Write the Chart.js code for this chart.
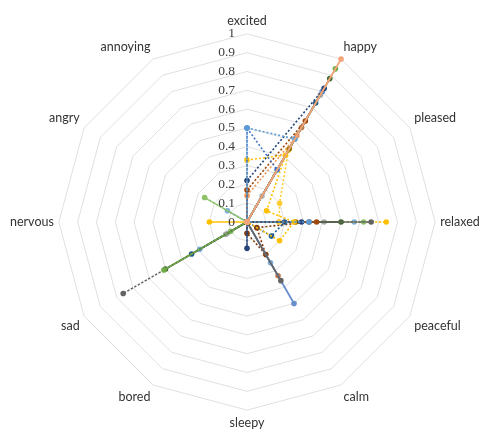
<!DOCTYPE html>
<html>
<head>
<meta charset="utf-8">
<script src="https://cdn.jsdelivr.net/npm/chart.js@4.4.1/dist/chart.umd.min.js"></script>
<style>
  body { margin: 0; background: #fff; }
  canvas { display: block; }
</style>
</head>
<body>
<canvas id="moodChart" width="482" height="436"></canvas>
<script>
// axes, clockwise from the top
const labels = ['excited', 'happy', 'pleased', 'relaxed', 'peaceful', 'calm',
                'sleepy', 'bored', 'sad', 'nervous', 'angry', 'annoying'];
const tickValues = [0, 0.1, 0.2, 0.3, 0.4, 0.5, 0.6, 0.7, 0.8, 0.9, 1];
const tickLabels = ['0', '0.1', '0.2', '0.3', '0.4', '0.5', '0.6', '0.7', '0.8', '0.9', '1'];

// one list per series
//           exc   hap   ple   rel   pea   calm  slp   bor   sad   nrv   ang   ann
const s01 = [0,    1.00, 0,    0,    0,    0,    0,    0,    0,    0,    0,    0];
const s02 = [0,    0.94, 0,    0,    0,    0,    0,    0,    0.51, 0,    0,    0];
const s03 = [0.50, 0.51, 0,    0.33, 0,    0,    0,    0,    0,    0,    0,    0];
const s04 = [0.50, 0.32, 0,    0,    0,    0,    0,    0,    0,    0,    0,    0];
const s05 = [0.33, 0.41, 0.12, 0.25, 0.20, 0,    0,    0,    0,    0,    0,    0];
const s06 = [0.22, 0.82, 0,    0.29, 0,    0,    0.14, 0,    0,    0,    0,    0];
const s07 = [0.17, 0.62, 0,    0.37, 0,    0,    0,    0,    0,    0,    0,    0];
const s08 = [0.14, 0.53, 0,    0,    0,    0,    0,    0,    0,    0,    0,    0];
const s09 = [0,    0,    0,    0.66, 0,    0.36, 0,    0,    0.76, 0,    0,    0];
const s10 = [0,    0.88, 0,    0.50, 0,    0,    0,    0,    0.50, 0,    0,    0];
const s11 = [0,    0.78, 0,    0.41, 0,    0,    0,    0,    0.13, 0,    0,    0];
const s12 = [0,    0.45, 0,    0.26, 0,    0,    0,    0,    0,    0,    0,    0];
const s13 = [0,    0.73, 0,    0.20, 0.15, 0,    0,    0,    0.34, 0,    0,    0];
const s14 = [0,    0,    0,    0.62, 0,    0,    0,    0,    0.10, 0,    0.26, 0];
const s15 = [0,    0,    0,    0.74, 0,    0,    0,    0,    0,    0.20, 0,    0];
const s16 = [0,    0.44, 0.20, 0.17, 0,    0,    0,    0,    0,    0,    0,    0];
const s17 = [0,    0.80, 0,    0,    0,    0.50, 0,    0,    0,    0,    0,    0];
const s18 = [0,    0.16, 0,    0.17, 0,    0,    0,    0,    0.12, 0,    0,    0];
const s19 = [0,    0,    0,    0.33, 0.06, 0.20, 0.06, 0,    0,    0,    0,    0];
const s20 = [0,    0.58, 0,    0,    0,    0.33, 0,    0,    0,    0,    0,    0];
const s21 = [0,    0,    0,    0.57, 0,    0.25, 0,    0,    0.29, 0,    0.12, 0];

const seriesData = [s01, s02, s03, s04, s05, s06, s07, s08, s09, s10, s11,
                    s12, s13, s14, s15, s16, s17, s18, s19, s20, s21];
const seriesColors = ['#F4A57A', '#70AD47', '#5B9BD5', '#4472C4', '#FFC000', '#264478',
                      '#9E480E', '#F1975A', '#636363', '#43682B', '#A5A5A5', '#997300',
                      '#255E91', '#8CC168', '#FFC000', '#FFCD33', '#698ED0', '#B7B7B7',
                      '#843C0C', '#C0794A', '#7CAFDD'];
const seriesSolid = [true, false, false, false, false, false, false, false, false, true, false,
                     false, false, false, false, false, true, false, false, false, false];

const tickLabelPlugin = {
    id: 'tickLabelPlugin',
    afterDatasetsDraw(chart) {
        const scale = chart.scales.r;
        const ctx = chart.ctx;
        ctx.save();
        ctx.font = '13.5px "Liberation Serif", serif';
        ctx.fillStyle = '#404040';
        ctx.textAlign = 'right';
        ctx.textBaseline = 'middle';
        tickValues.forEach((v, i) => {
            const d = scale.getDistanceFromCenterForValue(v);
            ctx.fillText(tickLabels[i], scale.xCenter - 12, scale.yCenter - d);
        });
        ctx.restore();
    }
};

const ctx = document.getElementById('moodChart').getContext('2d');
new Chart(ctx, {
    type: 'radar',
    data: {
        labels: labels,
        datasets: seriesData.map((d, i) => ({
            label: 'series ' + (i + 1),
            data: d,
            borderColor: seriesColors[i],
            backgroundColor: seriesColors[i],
            pointBackgroundColor: seriesColors[i],
            pointBorderColor: seriesColors[i],
            pointRadius: 2.8,
            pointBorderWidth: 0,
            borderWidth: seriesSolid[i] ? 1.8 : 1.6,
            borderDash: seriesSolid[i] ? [] : [2, 2],
            fill: false
        }))
    },
    options: {
        responsive: false,
        animation: false,
        layout: { padding: { left: 8, right: -7, top: 8, bottom: 0 } },
        plugins: {
            legend: { display: false },
            tooltip: { enabled: false }
        },
        scales: {
            r: {
                min: 0,
                max: 1,
                ticks: { stepSize: 0.1, display: false },
                grid: { color: '#E0E0E0', lineWidth: 1 },
                angleLines: { display: false },
                pointLabels: {
                    padding: 5,
                    color: '#333333',
                    font: { family: 'Lato', size: 12.5 }
                }
            }
        }
    },
    plugins: [tickLabelPlugin]
});
</script>
</body>
</html>
